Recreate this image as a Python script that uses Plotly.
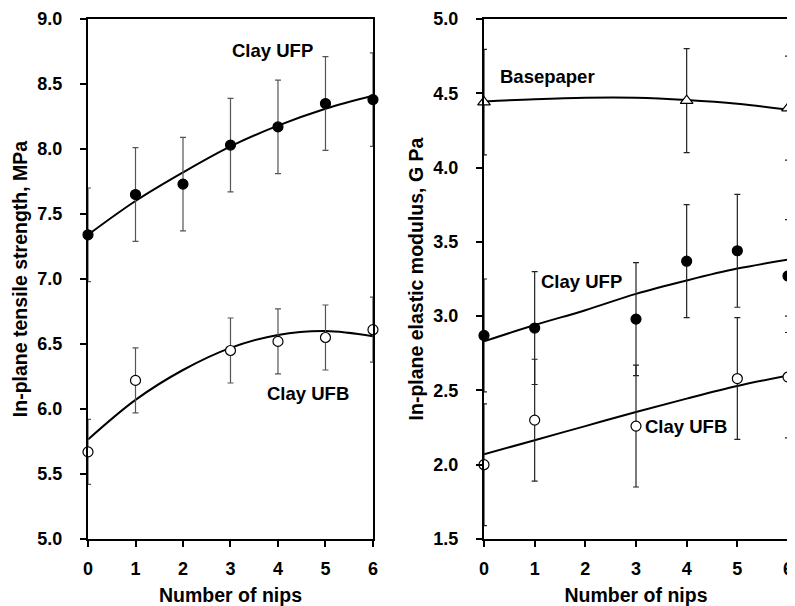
import plotly.graph_objects as go

# ---------------- data ----------------
nips_all = [0, 1, 2, 3, 4, 5, 6]

# Left panel: in-plane tensile strength (MPa)
ufp_ts_x = [0, 1, 2, 3, 4, 5, 6]
ufp_ts = [7.34, 7.65, 7.73, 8.03, 8.17, 8.35, 8.38]
ufp_ts_err = [0.36, 0.36, 0.36, 0.36, 0.36, 0.36, 0.36]
ufp_ts_fit = [7.34, 7.60, 7.82, 8.02, 8.18, 8.31, 8.41]

ufb_ts_x = [0, 1, 3, 4, 5, 6]
ufb_ts = [5.67, 6.22, 6.45, 6.52, 6.55, 6.61]
ufb_ts_err = [0.25, 0.25, 0.25, 0.25, 0.25, 0.25]
ufb_ts_fit = [5.765, 6.07, 6.30, 6.47, 6.57, 6.60, 6.56]

# Right panel: in-plane elastic modulus (GPa)
base_em_x = [0, 4, 6]
base_em = [4.44, 4.45, 4.40]
base_em_err = [0.355, 0.35, 0.35]
base_em_fit = [4.445, 4.46, 4.47, 4.47, 4.455, 4.43, 4.39]

ufp_em_x = [0, 1, 3, 4, 5, 6]
ufp_em = [2.87, 2.92, 2.98, 3.37, 3.44, 3.27]
ufp_em_err = [0.38, 0.38, 0.38, 0.38, 0.38, 0.38]
ufp_em_fit = [2.83, 2.94, 3.04, 3.15, 3.24, 3.32, 3.38]

ufb_em_x = [0, 1, 3, 5, 6]
ufb_em = [2.00, 2.30, 2.26, 2.58, 2.59]
ufb_em_err = [0.41, 0.41, 0.41, 0.41, 0.41]
ufb_em_fit = [2.07, 2.165, 2.26, 2.355, 2.445, 2.53, 2.60]

x_ticks = [0, 1, 2, 3, 4, 5, 6]
left_yticks = [5.0, 5.5, 6.0, 6.5, 7.0, 7.5, 8.0, 8.5, 9.0]
right_yticks = [1.5, 2.0, 2.5, 3.0, 3.5, 4.0, 4.5, 5.0]

FONT = "Arial, Liberation Sans, sans-serif"

fig = go.Figure()


def fit_line(y, xa, ya):
    fig.add_trace(go.Scatter(x=nips_all, y=y, mode="lines", line=dict(color="black", width=2, shape="spline"),
                             xaxis=xa, yaxis=ya, showlegend=False, hoverinfo="skip", cliponaxis=False))


def points(x, y, err, symbol, fill, xa, ya, ecolor, size=10):
    fig.add_trace(go.Scatter(x=x, y=y, mode="markers",
                             marker=dict(symbol=symbol, size=size, color=fill, line=dict(color="black", width=1.2)),
                             error_y=dict(type="data", array=err, visible=True, color=ecolor, thickness=1.2, width=3),
                             xaxis=xa, yaxis=ya, showlegend=False, cliponaxis=False))


# left panel
fit_line(ufp_ts_fit, "x", "y")
fit_line(ufb_ts_fit, "x", "y")
points(ufp_ts_x, ufp_ts, ufp_ts_err, "circle", "black", "x", "y", "#555555")
points(ufb_ts_x, ufb_ts, ufb_ts_err, "circle", "white", "x", "y", "#555555")

# right panel
fit_line(base_em_fit, "x2", "y2")
fit_line(ufp_em_fit, "x2", "y2")
fit_line(ufb_em_fit, "x2", "y2")
points(base_em_x, base_em, base_em_err, "triangle-up", "white", "x2", "y2", "#222222", size=11)
points(ufp_em_x, ufp_em, ufp_em_err, "circle", "black", "x2", "y2", "#222222")
points(ufb_em_x, ufb_em, ufb_em_err, "circle", "white", "x2", "y2", "#222222")

tickfont = dict(family=FONT, size=18, color="black", weight="bold")
titlefont = dict(family=FONT, size=19.5, color="black", weight="bold")

axis_common = dict(showline=True, linecolor="black", linewidth=2, mirror=True, ticks="outside",
                   ticklen=6, tickwidth=1.5, tickcolor="black", showgrid=False, zeroline=False,
                   tickfont=tickfont, automargin=False)

# page body has an 8px margin; figure is sized to fit the 795x606 window
fig.update_layout(
    width=787, height=598,
    margin=dict(l=80, r=7, t=11, b=67),
    paper_bgcolor="white", plot_bgcolor="white",
    xaxis=dict(domain=[0, 0.4071], range=[0, 6], tickvals=x_ticks, ticklabelstandoff=6,
               title=dict(text="Number of nips", font=titlefont, standoff=14), **axis_common),
    yaxis=dict(range=[5, 9], tickvals=left_yticks, tickformat=".1f", ticklabelstandoff=14,
               title=dict(text="In-plane tensile strength, MPa", font=titlefont, standoff=5), **axis_common),
    xaxis2=dict(domain=[0.5657, 1], range=[0, 6], tickvals=x_ticks, anchor="y2", ticklabelstandoff=6,
                title=dict(text="Number of nips", font=titlefont, standoff=14), **axis_common),
    yaxis2=dict(range=[1.5, 5], tickvals=right_yticks, tickformat=".1f", anchor="x2", ticklabelstandoff=14,
                title=dict(text="In-plane elastic modulus, G Pa", font=titlefont, standoff=5), **axis_common),
)

annfont = dict(family=FONT, size=18.5, color="black", weight="bold")
labels = [
    ("Clay UFP", 3.89, 8.76, "x", "y"),
    ("Clay UFB", 4.63, 6.12, "x", "y"),
    ("Basepaper", 1.26, 4.61, "x2", "y2"),
    ("Clay UFP", 1.93, 3.23, "x2", "y2"),
    ("Clay UFB", 3.98, 2.26, "x2", "y2"),
]
for text, xv, yv, xa, ya in labels:
    fig.add_annotation(text=text, x=xv, y=yv, xref=xa, yref=ya, showarrow=False, font=annfont)

fig.write_html("out.html")
